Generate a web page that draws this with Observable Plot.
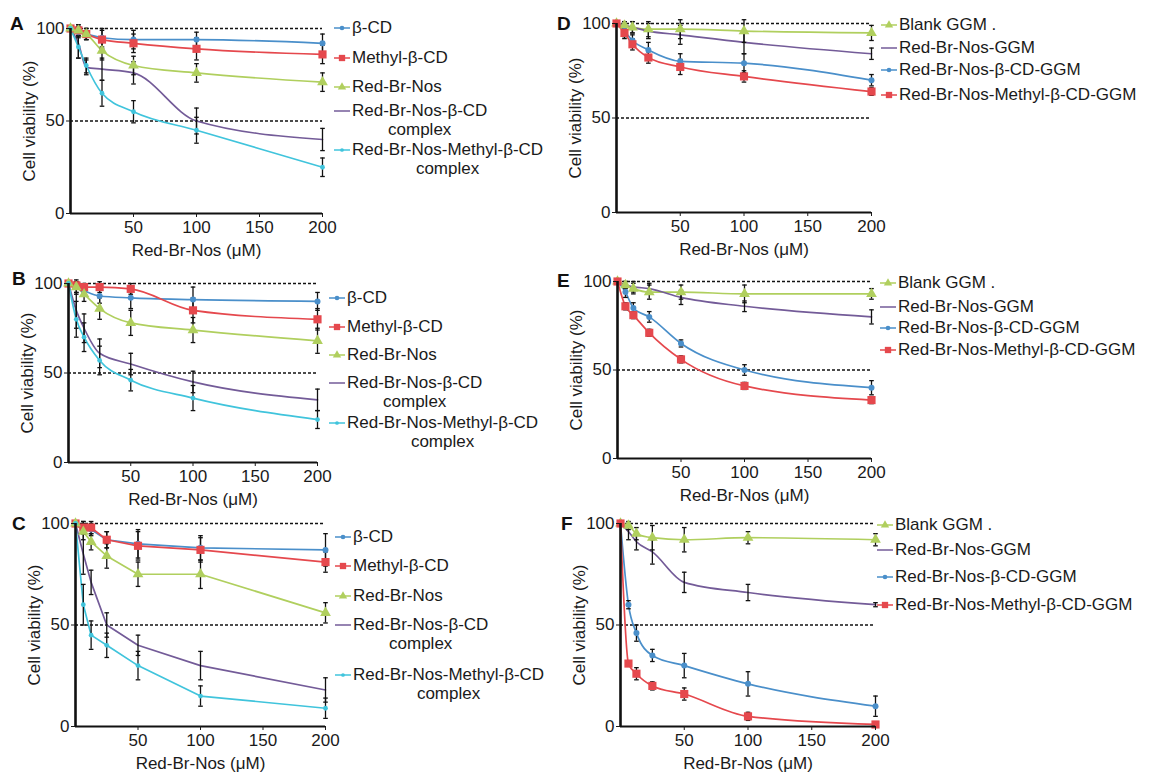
<!DOCTYPE html>
<html><head><meta charset="utf-8">
<script src="https://cdn.jsdelivr.net/npm/d3@7"></script>
<script src="https://cdn.jsdelivr.net/npm/@observablehq/plot@0.6"></script>
<style>
body{margin:0;background:#fff;font-family:"Liberation Sans",Arial,sans-serif;}
#fig{position:relative;width:1161px;height:781px;overflow:hidden;background:#fff}
.panel{position:absolute}
.letter{position:absolute;font-weight:bold;font-size:19px;color:#111;line-height:19px}
.item{position:absolute;white-space:nowrap;display:flex;align-items:flex-start;font-size:17px;color:#1a1a1a}
.item .txt{text-align:center;line-height:19px}
</style></head><body><div id="fig"></div><script>
// ---------- data ----------
const conc = [0, 6.25, 12.5, 25, 50, 100, 200];
const xTicks = [50, 100, 150, 200];
const yTicks = [0, 50, 100];
const refLines = [50, 100];
const xLabel = "Red-Br-Nos (μM)";
const yLabel = "Cell viability (%)";

const labelsABC = ["β-CD", "Methyl-β-CD", "Red-Br-Nos", "Red-Br-Nos-β-CD\ncomplex", "Red-Br-Nos-Methyl-β-CD\ncomplex"];
const labelsDEF = ["Blank GGM  .", "Red-Br-Nos-GGM", "Red-Br-Nos-β-CD-GGM", "Red-Br-Nos-Methyl-β-CD-GGM"];

// Panel A
const A_bCD = [100, 98, 97, 95, 94, 94, 92];   const A_bCD_err = [0, 3, 3, 5, 5, 4, 5];
const A_mbCD = [100, 99, 97, 94, 92, 89, 86];  const A_mbCD_err = [0, 3, 3, 5, 5, 6, 5];
const A_rbn = [100, 99, 97, 88, 80, 76, 71];   const A_rbn_err = [0, 3, 3, 5, 5, 5, 5];
const A_cx1 = [100, 92, 79, 78, 76, 50, 40];   const A_cx1_err = [0, 8, 4, 6, 6, 7, 6];
const A_cx2 = [100, 90, 80, 65, 55, 45, 25];   const A_cx2_err = [0, 6, 4, 7, 6, 7, 5];
// Panel B
const B_bCD = [100, 98, 96, 93, 92, 91, 90];   const B_bCD_err = [0, 3, 3, 4, 6, 7, 5];
const B_mbCD = [100, 99, 98, 98, 97, 85, 80];  const B_mbCD_err = [0, 2, 2, 3, 3, 7, 6];
const B_rbn = [100, 98, 94, 86, 78, 74, 68];   const B_rbn_err = [0, 4, 4, 6, 7, 7, 7];
const B_cx1 = [100, 85, 75, 61, 55, 45, 35];   const B_cx1_err = [0, 10, 8, 8, 6, 6, 6];
const B_cx2 = [100, 80, 70, 57, 46, 36, 24];   const B_cx2_err = [0, 10, 8, 8, 6, 7, 5];
// Panel C
const C_bCD = [100, 98, 97, 92, 90, 88, 87];   const C_bCD_err = [0, 3, 3, 4, 7, 6, 8];
const C_mbCD = [100, 98, 98, 92, 89, 87, 81];  const C_mbCD_err = [0, 3, 3, 4, 7, 6, 5];
const C_rbn = [100, 96, 91, 84, 75, 75, 56];   const C_rbn_err = [0, 4, 4, 6, 6, 7, 5];
const C_cx1 = [100, 85, 71, 50, 40, 30, 18];   const C_cx1_err = [0, 10, 6, 6, 5, 7, 6];
const C_cx2 = [100, 60, 45, 40, 30, 15, 9];    const C_cx2_err = [0, 10, 7, 6, 7, 5, 5];
// Panel D
const D_blank = [100, 99, 98, 97, 97, 96, 95]; const D_blank_err = [0, 2, 3, 4, 5, 6, 4];
const D_rbn = [100, 99, 98, 96, 94, 90, 84];   const D_rbn_err = [0, 2, 3, 4, 5, 6, 3];
const D_bCD = [100, 96, 91, 86, 80, 79, 70];   const D_bCD_err = [0, 3, 3, 4, 4, 5, 3];
const D_mbCD = [100, 95, 89, 82, 77, 72, 64];  const D_mbCD_err = [0, 3, 3, 3, 4, 3, 2];
// Panel E
const E_blank = [100, 98, 96, 94, 94, 93, 93]; const E_blank_err = [0, 2, 3, 4, 4, 5, 3];
const E_rbn = [100, 98, 97, 96, 91, 86, 80];   const E_rbn_err = [0, 2, 3, 3, 4, 3, 4];
const E_bCD = [100, 94, 85, 80, 65, 50, 40];   const E_bCD_err = [0, 3, 3, 3, 2, 3, 4];
const E_mbCD = [100, 86, 81, 71, 56, 41, 33];  const E_mbCD_err = [0, 2, 2, 2, 2, 2, 2];
// Panel F
const F_blank = [100, 99, 95, 93, 92, 93, 92]; const F_blank_err = [0, 2, 3, 6, 6, 3, 3];
const F_rbn = [100, 96, 91, 86, 71, 66, 60];   const F_rbn_err = [0, 4, 4, 6, 5, 4, 1];
const F_bCD = [100, 60, 46, 35, 30, 21, 10];   const F_bCD_err = [0, 2, 4, 3, 6, 6, 5];
const F_mbCD = [100, 31, 26, 20, 16, 5, 1];    const F_mbCD_err = [0, 1, 3, 2, 3, 2, 1];

// ---------- styles ----------
const ST = {
  blue:   {color: "#4a8fca", symbol: "circle",   r: 3},
  red:    {color: "#e5484d", symbol: "square",   r: 4.6},
  green:  {color: "#b0cf5e", symbol: "triangle", r: 4},
  purple: {color: "#735b98", symbol: null,       r: 0},
  cyan:   {color: "#40c4dc", symbol: "circle",   r: 2.4}
};
const abcStyles = ["blue", "red", "green", "purple", "cyan"];
const defStyles = ["green", "purple", "blue", "red"];

const panels = [
  {letter: "A", lx: 10, ly: 14, left: 70, top: 28, w: 252, h: 185, curve: "monotone-x",
   vals: [A_bCD, A_mbCD, A_rbn, A_cx1, A_cx2], errs: [A_bCD_err, A_mbCD_err, A_rbn_err, A_cx1_err, A_cx2_err],
   labels: labelsABC, styles: abcStyles, legX: 333, legRows: [28, 58, 87, 111, 150]},
  {letter: "B", lx: 12, ly: 269, left: 68, top: 283, w: 249, h: 179, curve: "monotone-x",
   vals: [B_bCD, B_mbCD, B_rbn, B_cx1, B_cx2], errs: [B_bCD_err, B_mbCD_err, B_rbn_err, B_cx1_err, B_cx2_err],
   labels: labelsABC, styles: abcStyles, legX: 328, legRows: [298, 327, 355, 383, 423]},
  {letter: "C", lx: 12, ly: 514, left: 75, top: 523, w: 250, h: 203, curve: "linear",
   vals: [C_bCD, C_mbCD, C_rbn, C_cx1, C_cx2], errs: [C_bCD_err, C_mbCD_err, C_rbn_err, C_cx1_err, C_cx2_err],
   labels: labelsABC, styles: abcStyles, legX: 334, legRows: [537, 566, 596, 625, 675]},
  {letter: "D", lx: 557, ly: 14, left: 616, top: 23, w: 255, h: 189, curve: "monotone-x",
   vals: [D_blank, D_rbn, D_bCD, D_mbCD], errs: [D_blank_err, D_rbn_err, D_bCD_err, D_mbCD_err],
   labels: labelsDEF, styles: defStyles, legX: 880, legRows: [25, 48, 70, 95]},
  {letter: "E", lx: 557, ly: 271, left: 617, top: 281, w: 254, h: 177, curve: "monotone-x",
   vals: [E_blank, E_rbn, E_bCD, E_mbCD], errs: [E_blank_err, E_rbn_err, E_bCD_err, E_mbCD_err],
   labels: labelsDEF, styles: defStyles, legX: 879, legRows: [283, 307, 328, 350]},
  {letter: "F", lx: 561, ly: 514, left: 620, top: 523, w: 255, h: 203, curve: "monotone-x",
   vals: [F_blank, F_rbn, F_bCD, F_mbCD], errs: [F_blank_err, F_rbn_err, F_bCD_err, F_mbCD_err],
   labels: labelsDEF, styles: defStyles, legX: 876, legRows: [525, 550, 577, 605]}
];

const fig = document.getElementById("fig");
const capSymbol = {draw(ctx, size) { const r = Math.sqrt(size / Math.PI); ctx.moveTo(-r, 0); ctx.lineTo(r, 0); }};
const ML = 70, MT = 28, MR = 20, MB = 55;

for (const p of panels) {
  const marks = [
    Plot.ruleY(refLines, {stroke: "#111", strokeDasharray: "3,2", strokeWidth: 1.3})
  ];
  const allRows = [];
  p.vals.forEach((vals, si) => {
    const st = ST[p.styles[si]];
    const rows = conc.map((x, i) => ({x, y: vals[i], err: p.errs[si][i]}));
    allRows.push(...rows);
    marks.push(Plot.line(rows, {x: "x", y: "y", stroke: st.color, strokeWidth: 1.7, curve: p.curve}));
  });
  const errRows = allRows.filter(d => d.err > 0);
  marks.push(
    Plot.ruleX(errRows, {x: "x", y1: d => d.y - d.err, y2: d => d.y + d.err, stroke: "#111", strokeWidth: 1.3}),
    Plot.dot(errRows, {x: "x", y: d => d.y - d.err, symbol: capSymbol, r: 2.3, stroke: "#111", strokeWidth: 1.3}),
    Plot.dot(errRows, {x: "x", y: d => d.y + d.err, symbol: capSymbol, r: 2.3, stroke: "#111", strokeWidth: 1.3})
  );
  p.vals.forEach((vals, si) => {
    const st = ST[p.styles[si]];
    if (!st.symbol) return;
    const rows = conc.map((x, i) => ({x, y: vals[i]}));
    marks.push(Plot.dot(rows, {x: "x", y: "y", symbol: st.symbol, r: st.r, fill: st.color, stroke: "none"}));
  });
  marks.push(
    Plot.ruleX([0], {stroke: "#111", strokeWidth: 2.6}),
    Plot.ruleY([0], {stroke: "#111", strokeWidth: 2}),
    Plot.axisY({ticks: yTicks, tickSize: 4, tickPadding: 2, label: yLabel, labelAnchor: "center", labelArrow: "none", labelOffset: 48, fontSize: 17}),
    Plot.axisX({ticks: xTicks, tickSize: 4, tickPadding: 3, label: xLabel, labelAnchor: "center", labelArrow: "none", labelOffset: 42, fontSize: 17})
  );
  const chart = Plot.plot({
    width: p.w + ML + MR, height: p.h + MT + MB,
    marginLeft: ML, marginRight: MR, marginTop: MT, marginBottom: MB,
    x: {domain: [0, 200]}, y: {domain: [0, 100]},
    style: {fontFamily: "Liberation Sans, Arial, sans-serif", fontSize: "17px", color: "#1a1a1a", background: "transparent", overflow: "visible"},
    marks
  });
  const wrap = document.createElement("div");
  wrap.className = "panel";
  wrap.style.left = (p.left - ML) + "px";
  wrap.style.top = (p.top - MT) + "px";
  wrap.appendChild(chart);
  fig.appendChild(wrap);

  const L = document.createElement("div");
  L.className = "letter"; L.textContent = p.letter;
  L.style.left = p.lx + "px"; L.style.top = p.ly + "px";
  fig.appendChild(L);

  // legend
  p.labels.forEach((lab, si) => {
    const st = ST[p.styles[si]];
    const item = document.createElement("div");
    item.className = "item";
    item.style.left = p.legX + "px";
    item.style.top = (p.legRows[si] - 10) + "px";
    const sw = d3.create("svg").attr("width", 19).attr("height", 20).style("flex", "none");
    sw.append("line").attr("x1", 1).attr("x2", 17).attr("y1", 10).attr("y2", 10).attr("stroke", st.color).attr("stroke-width", 1.5);
    if (st.symbol) {
      const type = {circle: d3.symbolCircle, square: d3.symbolSquare, triangle: d3.symbolTriangle}[st.symbol];
      sw.append("path").attr("transform", "translate(9,10)").attr("d", d3.symbol(type, Math.PI * st.r * st.r * 0.6)()).attr("fill", st.color);
    }
    item.appendChild(sw.node());
    const txt = document.createElement("div");
    txt.className = "txt";
    lab.split("\n").forEach((line, k) => {
      if (k) txt.appendChild(document.createElement("br"));
      txt.appendChild(document.createTextNode(line));
    });
    item.appendChild(txt);
    fig.appendChild(item);
  });
}
</script></body></html>
